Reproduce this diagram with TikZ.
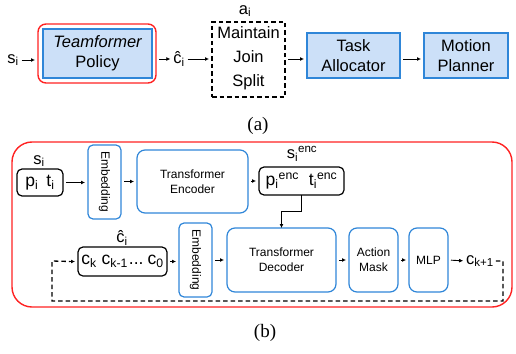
\documentclass[tikz,border=0pt]{standalone}
\usepackage{fontspec}
\setmainfont{Liberation Sans}
\newfontfamily\capfont{Liberation Serif}
\usetikzlibrary{arrows.meta}
\newcommand\dn[1]{\textsubscript{#1}}
\newcommand\up[1]{\textsuperscript{#1}}
\definecolor{bblue}{HTML}{2F86D8}
\definecolor{lblue}{HTML}{CCE0F8}
\definecolor{rred}{HTML}{FF2222}
\begin{document}
\begin{tikzpicture}[x=1pt,y=-1pt,
  every node/.style={inner sep=0pt,outer sep=0pt},
  bigtxt/.style={font=\fontsize{16.5}{20}\selectfont,align=center},
  smtxt/.style={font=\fontsize{12}{15}\selectfont,align=center},
  topbox/.style={draw=bblue,fill=lblue,line width=1.3pt,bigtxt},
  bluebox/.style={draw=bblue,line width=1.2pt,rounded corners=8pt,smtxt},
  embbox/.style={draw=bblue,line width=1.2pt,rounded corners=5pt,minimum width=33pt,minimum height=74pt},
  blackbox/.style={draw=black,line width=1.2pt,rounded corners=5pt,font=\fontsize{17.5}{19}\selectfont},
  lbl/.style={font=\fontsize{16.5}{18}\selectfont},
  arr/.style={-{Latex[length=4pt,width=4pt]},line width=0.9pt,shorten <=3pt,shorten >=3pt},
  dsh/.style={dashed,dash pattern=on 4.5pt off 3pt,line width=1.3pt}]
\useasboundingbox (0,0) rectangle (516,353);

% ---------- (a) ----------
\node[lbl] (si) at (13,60) {s\dn{i}};
\node[draw=rred,line width=1.4pt,rounded corners=8pt,minimum width=118pt,minimum height=59pt] (red) at (97,53.5) {};
\node[topbox,minimum width=109pt,minimum height=49pt] (policy) at (97.5,53.5) {\itshape Teamformer\\Policy};
\node[lbl] (chat) at (179,59) {ĉ\dn{i}};
\node[draw,dsh,minimum width=73pt,minimum height=75pt] (act) at (248.5,59.5) {};
\node[bigtxt,anchor=center] (acttext) at (248.5,58) {Maintain\\[4pt]Join\\[4pt]Split};
\node[lbl] (ai) at (245,11) {a\dn{i}};
\node[topbox,minimum width=93pt,minimum height=45pt] (task) at (353.5,55.5) {Task\\Allocator};
\node[topbox,minimum width=84pt,minimum height=45pt] (motion) at (466,55.5) {Motion\\Planner};

\draw[arr] (si.east) -- (red.west |- si.east);
\draw[arr] (red.east |- chat.west) -- (chat.west);
\draw[arr] (chat.east) -- (act.west |- chat.east);
\draw[arr] (act.east |- chat.east) -- (task.west |- chat.east);
\draw[arr] (task.east |- chat.east) -- (motion.west |- chat.east);

\node[font=\capfont\fontsize{19}{22}\selectfont] (capa) at (258,126) {(a)};

% ---------- (b) ----------
\node[draw=rred,line width=1.4pt,rounded corners=20pt,minimum width=500pt,minimum height=165pt] (frame) at (262,224.5) {};

\node[blackbox,minimum width=46pt,minimum height=27pt] (pt) at (40,182.5) {p\dn{i}\hspace{8pt}t\dn{i}};
\node[lbl] (slab) at (39,161) {s\dn{i}};
\node[embbox] (emb1) at (104.5,182) {};
\node[smtxt,rotate=-90] (emb1t) at (emb1.center) {Embedding};
\node[bluebox,minimum width=111pt,minimum height=63pt] (enc) at (192.5,181.5) {Transformer\\Encoder};
\node[blackbox,minimum width=85pt,minimum height=28pt] (penc) at (301.5,181) {p\dn{i}\up{enc}\hspace{10pt}t\dn{i}\up{enc}};
\node[lbl] (senc) at (302,154) {s\dn{i}\up{enc}};

\node[blackbox,minimum width=89pt,minimum height=29pt] (cbox) at (122.5,261.5) {c\dn{k}\hspace{5pt}c\dn{k-1}\hspace{1pt}...\hspace{4pt}c\dn{0}};
\node[lbl] (chat2) at (122,238) {ĉ\dn{i}};
\node[embbox] (emb2) at (195.5,260) {};
\node[smtxt,rotate=-90] (emb2t) at (emb2.center) {Embedding};
\node[bluebox,minimum width=109pt,minimum height=64pt] (dec) at (281.5,260) {Transformer\\Decoder};
\node[bluebox,minimum width=49pt,minimum height=64pt] (mask) at (373.5,260) {Action\\Mask};
\node[bluebox,minimum width=39pt,minimum height=64pt] (mlp) at (428.5,260) {MLP};
\node[lbl] (cnext) at (480,261) {c\dn{k+1}};

\draw[arr] (pt.east) -- (emb1.west |- pt.east);
\draw[arr] (emb1.east |- enc.west) -- (enc.west);
\draw[arr] (enc.east |- penc.west) -- (penc.west);
\draw[-{Latex[length=4pt,width=4pt]},line width=0.9pt] (penc.south) -- ++(0,16) -| (dec.north);
\draw[arr] (cbox.east) -- (emb2.west |- cbox.east);
\draw[arr] (emb2.east |- dec.west) -- (dec.west);
\draw[arr] (dec.east) -- (mask.west);
\draw[arr] (mask.east) -- (mlp.west);
\draw[arr] (mlp.east) -- (cnext.west);

\coordinate (l1) at (503,261);
\coordinate (l2) at (503,301);
\coordinate (l3) at (52,301);
\coordinate (l4) at (52,261);
\draw[dsh] ([xshift=2pt]cnext.east) -- (l1) -- (l2) -- (l3) -- (l4) -- ([xshift=-8pt]cbox.west);
\draw[arr,shorten <=0pt] ([xshift=-9pt]cbox.west) -- (cbox.west);

\node[font=\capfont\fontsize{19}{22}\selectfont] (capb) at (265,333) {(b)};
\end{tikzpicture}
\end{document}
